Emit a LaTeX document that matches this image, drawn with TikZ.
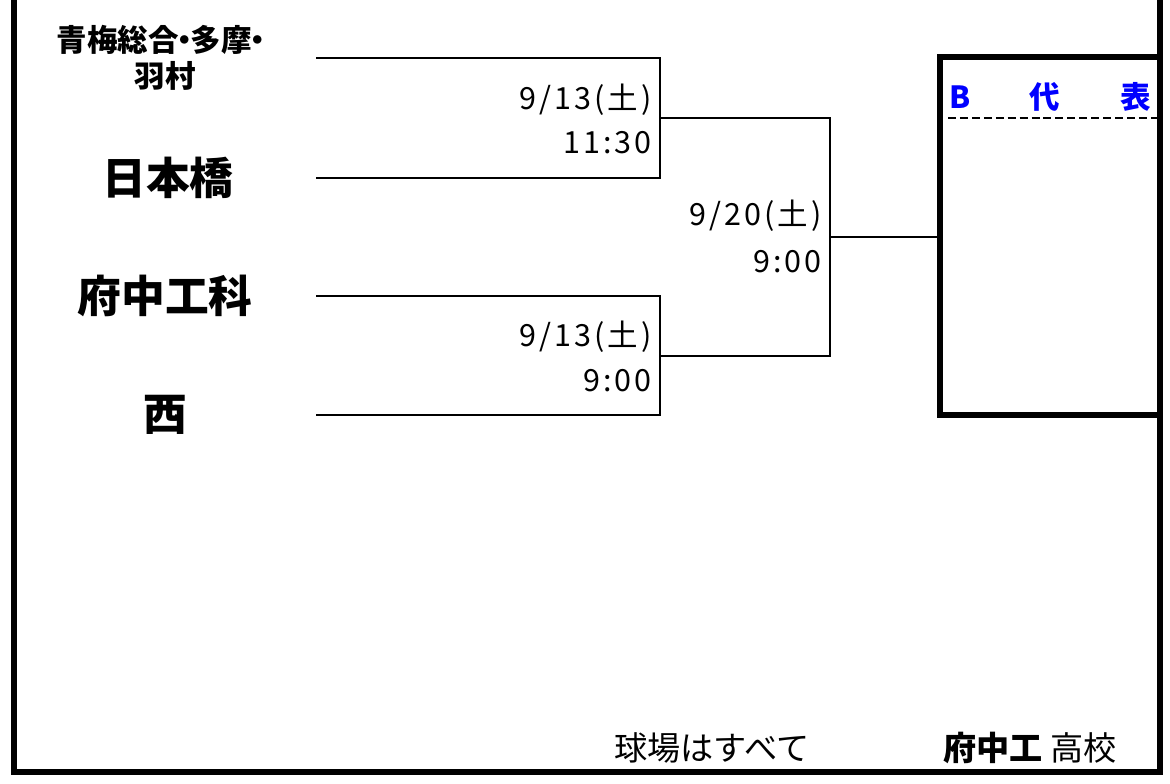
\documentclass[tikz,border=0pt]{standalone}
\usepackage{fontspec}
\setmainfont{Noto Sans CJK JP}
\usetikzlibrary{positioning}

\tikzset{
  team/.style={font=\bfseries\fontsize{33}{36}\selectfont, inner sep=0pt},
  smallteam/.style={font=\bfseries\fontsize{23}{26}\selectfont, inner sep=0pt},
  date/.style={font=\fontsize{23}{26}\selectfont\addfontfeature{LetterSpace=10}, inner sep=0pt, anchor=east},
  line/.style={line width=1.9pt},
}

\begin{document}
\begin{tikzpicture}[x=0.0265cm, y=-0.0265cm]
	\useasboundingbox (0,0) rectangle (1170,783);
	%
	\draw [line width=4.5pt] (14,0) -- (14,772) -- (1160,772) -- (1160,0);
	\draw [line width=4.5pt] (1160,57) -- (940,57) -- (940,415) -- (1160,415);
	\draw [dash pattern=on 6pt off 3pt, line width=1.8pt] (948,118) -- (1158,118);
	\node [font=\bfseries\fontsize{23}{26}\selectfont, text=blue] (bb) at (960,97) {B};
	\node [font=\bfseries\fontsize{23}{26}\selectfont, text=blue] (bd) at (1045,97) {代};
	\node [font=\bfseries\fontsize{23}{26}\selectfont, text=blue] (bh) at (1136,97) {表};
	%
	\coordinate (a1) at (316,58);
	\coordinate (a2) at (316,178);
	\coordinate (a3) at (316,296);
	\coordinate (a4) at (316,415);
	\coordinate (m1) at (660,118);
	\coordinate (m2) at (660,356);
	\coordinate (f) at (830,237);
	\coordinate (w) at (940,237);
	\draw [line] (a1) -- (a1 -| m1) -- (a2 -| m1) -- (a2);
	\draw [line] (a3) -- (a3 -| m2) -- (a4 -| m2) -- (a4);
	\draw [line] (m1) -- (m1 -| f) -- (m2 -| f) -- (m2);
	\draw [line] (f) -- (w);
	%
	\node [smallteam] (t1) at (165,40) {青梅総合\kern-0.3em・\kern-0.3em多摩\kern-0.3em・};
	\node [smallteam] (t1b) at (165,76) {羽村};
	\node [team] (t2) at (168,178) {日本橋};
	\node [team] (t3) at (165,296) {府中工科};
	\node [team] (t4) at (165,415) {西};
	%
	\node [date] (d1) at (652,100) {9/13(土)};
	\node [date] (d1t) at (652,143) {11:30};
	\node [date] (d2) at (822,216) {9/20(土)};
	\node [date] (d2t) at (822,262) {9:00};
	\node [date] (d3) at (652,337) {9/13(土)};
	\node [date] (d3t) at (652,381) {9:00};
	%
	\node [font=\fontsize{25}{28}\selectfont] (venue) at (712,748) {球場はすべて};
	\node [font=\fontsize{25}{28}\selectfont] (host) at (1030,748) {\textbf{府中工} 高校};
\end{tikzpicture}
\end{document}
